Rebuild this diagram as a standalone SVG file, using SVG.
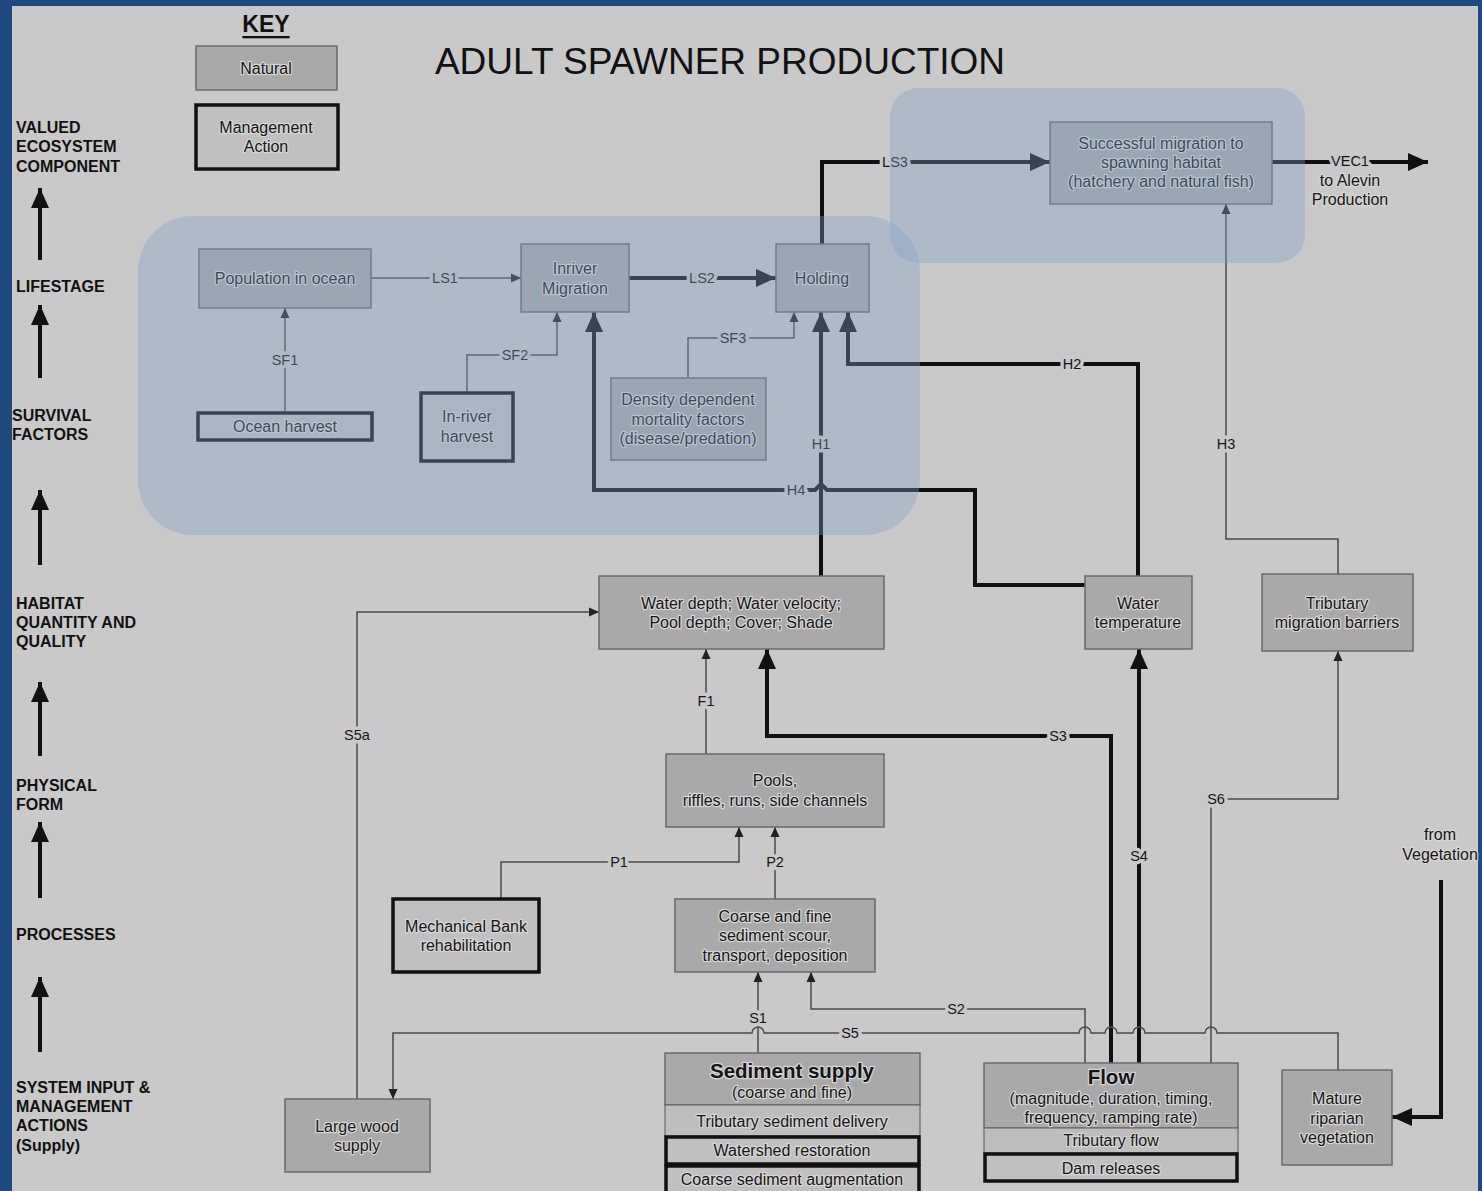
<svg xmlns="http://www.w3.org/2000/svg" width="1482" height="1191" viewBox="0 0 1482 1191">
<defs>
<style>
.bg{fill:#c9c9c9}
.nd{fill:#a9a9a9;stroke:#6a6a6a;stroke-width:1.5}
.mg{fill:#c0c0c0;stroke:#111;stroke-width:3.5}
.row{fill:#bdbdbd;stroke:#6a6a6a;stroke-width:1.2}
.t{font-family:"Liberation Sans",Arial,sans-serif;font-size:16px;fill:#151515;text-anchor:middle;dominant-baseline:central;paint-order:stroke;stroke:#d6d6d6;stroke-width:2.5;stroke-linejoin:round}
.tb{font-weight:bold;font-size:20.5px}
.ax{font-family:"Liberation Sans",Arial,sans-serif;font-size:16px;font-weight:bold;fill:#111}
.lbl{font-family:"Liberation Sans",Arial,sans-serif;font-size:14.5px;fill:#151515;text-anchor:middle;dominant-baseline:central;paint-order:stroke;stroke:#c9c9c9;stroke-width:7;stroke-linejoin:round}
.thin{fill:none;stroke:#4a4a4a;stroke-width:1.5}
.thick{fill:none;stroke:#111;stroke-width:4}
.hl{fill:#82a0c8;fill-opacity:0.36}
</style>
<marker id="a" markerUnits="userSpaceOnUse" markerWidth="11" markerHeight="10" refX="10" refY="5" orient="auto"><path d="M0,0.5 L10,5 L0,9.5 z" fill="#222"/></marker>
<marker id="A" markerUnits="userSpaceOnUse" markerWidth="21" markerHeight="18" refX="20" refY="9" orient="auto"><path d="M0,0 L20,9 L0,18 z" fill="#111"/></marker>
</defs>
<rect x="0" y="0" width="1482" height="1191" fill="#1f487c"/>
<rect class="bg" x="12" y="6" width="1466" height="1185"/>

<g id="title"><text x="720" y="61" font-family="'Liberation Sans',Arial,sans-serif" font-size="37" fill="#111" text-anchor="middle" dominant-baseline="central">ADULT SPAWNER PRODUCTION</text></g>

<g id="key">
<text x="266" y="24" font-family="'Liberation Sans',Arial,sans-serif" font-size="23" font-weight="bold" fill="#111" text-anchor="middle" dominant-baseline="central" text-decoration="underline">KEY</text>
<rect class="nd" x="196" y="46" width="141" height="44"/>
<text class="t" x="266" y="68">Natural</text>
<rect class="mg" x="196" y="105" width="142" height="64"/>
<text class="t" x="266" y="127">Management</text>
<text class="t" x="266" y="146">Action</text>
</g>

<g id="axis">
<text class="ax" x="16" y="133">VALUED</text>
<text class="ax" x="16" y="152">ECOSYSTEM</text>
<text class="ax" x="16" y="172">COMPONENT</text>
<text class="ax" x="16" y="292">LIFESTAGE</text>
<text class="ax" x="12" y="421">SURVIVAL</text>
<text class="ax" x="12" y="440">FACTORS</text>
<text class="ax" x="16" y="609">HABITAT</text>
<text class="ax" x="16" y="628">QUANTITY  AND</text>
<text class="ax" x="16" y="647">QUALITY</text>
<text class="ax" x="16" y="791">PHYSICAL</text>
<text class="ax" x="16" y="810">FORM</text>
<text class="ax" x="16" y="940">PROCESSES</text>
<text class="ax" x="16" y="1093">SYSTEM INPUT &amp;</text>
<text class="ax" x="16" y="1112">MANAGEMENT</text>
<text class="ax" x="16" y="1131">ACTIONS</text>
<text class="ax" x="16" y="1151">(Supply)</text>
<path class="thick" d="M40,260 V188" marker-end="url(#A)"/>
<path class="thick" d="M40,378 V305" marker-end="url(#A)"/>
<path class="thick" d="M40,565 V490" marker-end="url(#A)"/>
<path class="thick" d="M40,756 V682" marker-end="url(#A)"/>
<path class="thick" d="M40,898 V822" marker-end="url(#A)"/>
<path class="thick" d="M40,1052 V977" marker-end="url(#A)"/>
</g>

<g id="connectors">
<path class="thin" d="M371,278 H521" marker-end="url(#a)"/>
<path class="thick" d="M629,278 H776" marker-end="url(#A)"/>
<path class="thick" d="M822,244 V162 H1050" marker-end="url(#A)"/>
<path class="thick" d="M1272,162 H1428" marker-end="url(#A)"/>
<path class="thin" d="M285,412 V308" marker-end="url(#a)"/>
<path class="thin" d="M467,392 V355 H557 V312" marker-end="url(#a)"/>
<path class="thin" d="M688,378 V338 H794 V312" marker-end="url(#a)"/>
<path class="thick" d="M821,576 V312" marker-end="url(#A)"/>
<path class="thick" d="M1138,576 V364 H848 V312" marker-end="url(#A)"/>
<path class="thick" d="M1085,585 H975 V490 H827 L821,484 L815,490 H594 V312" marker-end="url(#A)"/>
<path class="thin" d="M1338,574 V539 H1226 V204" marker-end="url(#a)"/>
<path class="thin" d="M357,1099 V612 H599" marker-end="url(#a)"/>
<path class="thin" d="M706,754 V649" marker-end="url(#a)"/>
<path class="thick" d="M1111,1063 V736 H767 V649" marker-end="url(#A)"/>
<path class="thick" d="M1139,1063 V649" marker-end="url(#A)"/>
<path class="thin" d="M1211,1063 V799 H1338 V651" marker-end="url(#a)"/>
<path class="thin" d="M501,898 V862 H739 V827" marker-end="url(#a)"/>
<path class="thin" d="M775,899 V827" marker-end="url(#a)"/>
<path class="thin" d="M758,1053 V972" marker-end="url(#a)"/>
<path class="thin" d="M1085,1063 V1009 H811 V972" marker-end="url(#a)"/>
<path class="thin" d="M1338,1070 V1033 H1217 A6,6 0 0 0 1205,1033 H1145 A6,6 0 0 0 1133,1033 H1117 A6,6 0 0 0 1105,1033 H1091 A6,6 0 0 0 1079,1033 H764 A6,6 0 0 0 752,1033 H393 V1099" marker-end="url(#a)"/>
<path class="thick" d="M1441,880 V1117 H1392" marker-end="url(#A)"/>
<text class="lbl" x="445" y="278">LS1</text>
<text class="lbl" x="702" y="278">LS2</text>
<text class="lbl" x="895" y="162">LS3</text>
<text class="lbl" x="1350" y="161">VEC1</text>
<text class="lbl" x="285" y="360">SF1</text>
<text class="lbl" x="515" y="355">SF2</text>
<text class="lbl" x="733" y="338">SF3</text>
<text class="lbl" x="821" y="444">H1</text>
<text class="lbl" x="1072" y="364">H2</text>
<text class="lbl" x="796" y="490">H4</text>
<text class="lbl" x="1226" y="444">H3</text>
<text class="lbl" x="357" y="735">S5a</text>
<text class="lbl" x="706" y="701">F1</text>
<text class="lbl" x="1058" y="736">S3</text>
<text class="lbl" x="1139" y="856">S4</text>
<text class="lbl" x="1216" y="799">S6</text>
<text class="lbl" x="619" y="862">P1</text>
<text class="lbl" x="775" y="862">P2</text>
<text class="lbl" x="758" y="1018">S1</text>
<text class="lbl" x="956" y="1009">S2</text>
<text class="lbl" x="850" y="1033">S5</text>
</g>

<g id="vec1-note">
<text class="t" x="1350" y="180">to Alevin</text>
<text class="t" x="1350" y="199">Production</text>
</g>
<g id="from-vegetation">
<text class="t" x="1440" y="834">from</text>
<text class="t" x="1440" y="854">Vegetation</text>
</g>

<g id="population-in-ocean"><rect class="nd" x="199" y="249" width="172" height="59"/><text class="t" x="285" y="278">Population in ocean</text></g>
<g id="inriver-migration"><rect class="nd" x="521" y="244" width="108" height="68"/><text class="t" x="575" y="268">Inriver</text><text class="t" x="575" y="288">Migration</text></g>
<g id="holding"><rect class="nd" x="776" y="244" width="93" height="68"/><text class="t" x="822" y="278">Holding</text></g>
<g id="successful-migration"><rect class="nd" x="1050" y="122" width="222" height="82"/><text class="t" x="1161" y="143">Successful migration to</text><text class="t" x="1161" y="162">spawning habitat</text><text class="t" x="1161" y="181">(hatchery and natural fish)</text></g>
<g id="ocean-harvest"><rect class="mg" x="198" y="413" width="174" height="27"/><text class="t" x="285" y="426">Ocean harvest</text></g>
<g id="in-river-harvest"><rect class="mg" x="421" y="393" width="92" height="68"/><text class="t" x="467" y="416">In-river</text><text class="t" x="467" y="436">harvest</text></g>
<g id="density-dependent"><rect class="nd" x="611" y="378" width="155" height="82"/><text class="t" x="688" y="399">Density dependent</text><text class="t" x="688" y="419">mortality factors</text><text class="t" x="688" y="438">(disease/predation)</text></g>
<g id="water-depth"><rect class="nd" x="599" y="576" width="285" height="73"/><text class="t" x="741" y="603">Water depth; Water velocity;</text><text class="t" x="741" y="622">Pool depth; Cover; Shade</text></g>
<g id="water-temperature"><rect class="nd" x="1085" y="576" width="107" height="73"/><text class="t" x="1138" y="603">Water</text><text class="t" x="1138" y="622">temperature</text></g>
<g id="tributary-migration-barriers"><rect class="nd" x="1262" y="574" width="151" height="77"/><text class="t" x="1337" y="603">Tributary</text><text class="t" x="1337" y="622">migration barriers</text></g>
<g id="pools"><rect class="nd" x="666" y="754" width="218" height="73"/><text class="t" x="775" y="780">Pools,</text><text class="t" x="775" y="800">riffles, runs, side channels</text></g>
<g id="mechanical-bank"><rect class="mg" x="393" y="899" width="146" height="73"/><text class="t" x="466" y="926">Mechanical Bank</text><text class="t" x="466" y="945">rehabilitation</text></g>
<g id="coarse-fine-sediment"><rect class="nd" x="675" y="899" width="200" height="73"/><text class="t" x="775" y="916">Coarse and fine</text><text class="t" x="775" y="935">sediment scour,</text><text class="t" x="775" y="955">transport, deposition</text></g>
<g id="large-wood-supply"><rect class="nd" x="285" y="1099" width="145" height="73"/><text class="t" x="357" y="1126">Large wood</text><text class="t" x="357" y="1145">supply</text></g>
<g id="sediment-supply">
<rect class="nd" x="665" y="1053" width="255" height="52"/>
<rect class="row" x="665" y="1105" width="255" height="31"/>
<rect class="mg" x="666" y="1137" width="253" height="27"/>
<rect class="mg" x="666" y="1166" width="253" height="30"/>
<text class="t tb" x="792" y="1070">Sediment supply</text>
<text class="t" x="792" y="1092">(coarse and fine)</text>
<text class="t" x="792" y="1121">Tributary sediment delivery</text>
<text class="t" x="792" y="1150">Watershed restoration</text>
<text class="t" x="792" y="1179">Coarse sediment augmentation</text>
</g>
<g id="flow">
<rect class="nd" x="984" y="1063" width="254" height="65"/>
<rect class="row" x="984" y="1128" width="254" height="25"/>
<rect class="mg" x="985" y="1154" width="252" height="27"/>
<text class="t tb" x="1111" y="1076">Flow</text>
<text class="t" x="1111" y="1098">(magnitude, duration, timing,</text>
<text class="t" x="1111" y="1117">frequency, ramping rate)</text>
<text class="t" x="1111" y="1140">Tributary flow</text>
<text class="t" x="1111" y="1168">Dam releases</text>
</g>
<g id="mature-riparian"><rect class="nd" x="1282" y="1070" width="110" height="95"/><text class="t" x="1337" y="1098">Mature</text><text class="t" x="1337" y="1118">riparian</text><text class="t" x="1337" y="1137">vegetation</text></g>

<g id="highlights">
<rect class="hl" x="138" y="216" width="782" height="319" rx="55"/>
<rect class="hl" x="890" y="88" width="415" height="175" rx="28"/>
</g>
</svg>
